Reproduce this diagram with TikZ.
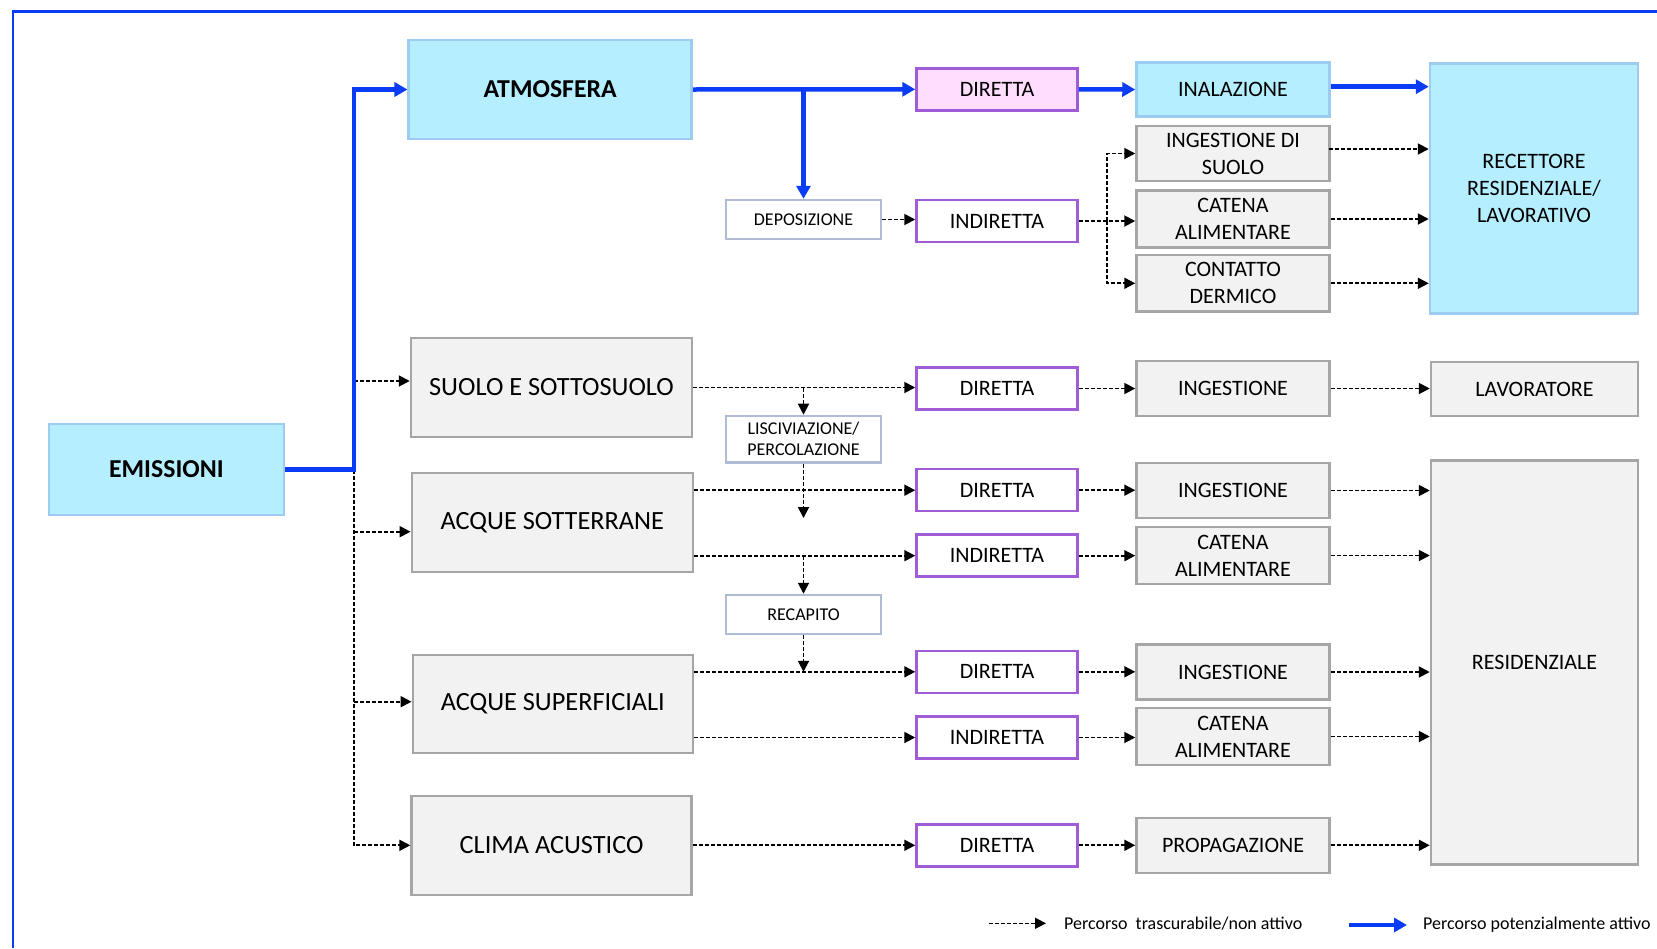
\documentclass[tikz,border=0pt]{standalone}
\usepackage{fontspec}
\setmainfont{Carlito}
\usetikzlibrary{arrows.meta,calc}
\definecolor{cyanfill}{RGB}{181,239,255}
\definecolor{cyanline}{RGB}{157,204,240}
\definecolor{grayfill}{RGB}{242,242,242}
\definecolor{grayline}{RGB}{166,166,166}
\definecolor{purpline}{RGB}{160,92,214}
\definecolor{pinkfill}{RGB}{255,221,255}
\definecolor{smallline}{RGB}{176,188,212}
\definecolor{activeblue}{RGB}{10,60,245}
\begin{document}
\begin{tikzpicture}[x=1pt,y=-1pt,
 box/.style={draw, line width=2.5pt, inner sep=0pt, align=center, font=\fontsize{22}{27}\selectfont},
 cyanbox/.style={box, fill=cyanfill, draw=cyanline},
 graybox/.style={box, fill=grayfill, draw=grayline},
 purpbox/.style={box, fill=white, draw=purpline, minimum width=161pt, minimum height=42pt},
 smallbox/.style={box, fill=white, draw=smallline, font=\fontsize{18}{21}\selectfont, minimum width=155pt},
 colsize/.style={minimum width=193pt, minimum height=55pt},
 bigfont/.style={font=\fontsize{26.3}{30}\selectfont},
 boldfont/.style={font=\bfseries\fontsize{25.8}{30}\selectfont},
 bluearr/.style={draw=activeblue, line width=4.5pt, -{Triangle[length=13pt,width=14pt]}},
 dasharr/.style={draw=black, line width=1.9pt, dash pattern=on 4pt off 2pt, -{Triangle[length=11pt,width=11pt]}},
 legtext/.style={anchor=west, inner sep=0pt, font=\fontsize{18}{21}\selectfont},
]
\useasboundingbox (0,0) rectangle (1657,948);
\fill[white] (0,0) rectangle (1657,948);
% frame
\draw[activeblue, line width=2.5pt] (13,948) -- (13,11.7) -- (1657,11.7);

% column 1-2
\node[cyanbox, boldfont, minimum width=235pt, minimum height=91pt] (emis) at (166.4,469.5) {EMISSIONI};
\node[cyanbox, boldfont, minimum width=283pt, minimum height=99pt] (atm) at (550.2,89.5) {ATMOSFERA};
\node[graybox, bigfont, minimum width=281pt, minimum height=99pt] (suolo) at (551.5,387.5) {SUOLO E SOTTOSUOLO};
\node[graybox, bigfont, minimum width=281pt, minimum height=99pt] (acqsott) at (552.3,522.5) {ACQUE SOTTERRANE};
\node[graybox, bigfont, minimum width=280pt, minimum height=98pt] (acqsup) at (552.8,704) {ACQUE SUPERFICIALI};
\node[graybox, bigfont, minimum width=280pt, minimum height=99pt] (clima) at (551.6,845.3) {CLIMA ACUSTICO};

% small boxes
\node[smallbox, minimum height=39pt] (depo) at (803.5,219.5) {DEPOSIZIONE};
\node[smallbox, minimum height=46.7pt] (lisc) at (803.5,439.3) {LISCIVIAZIONE/\\PERCOLAZIONE};
\node[smallbox, minimum height=39pt] (recap) at (803.5,614.5) {RECAPITO};

% purple boxes
\node[purpbox, fill=pinkfill] (dir1) at (997,89.3) {DIRETTA};
\node[purpbox] (ind1) at (997,221) {INDIRETTA};
\node[purpbox] (dir2) at (997,388.5) {DIRETTA};
\node[purpbox] (dir3) at (997,490.2) {DIRETTA};
\node[purpbox] (ind3) at (997,555.7) {INDIRETTA};
\node[purpbox] (dir4) at (997,671.8) {DIRETTA};
\node[purpbox] (ind4) at (997,737.5) {INDIRETTA};
\node[purpbox] (dir5) at (997,845.3) {DIRETTA};

% column 4
\node[cyanbox, colsize, minimum height=54.4pt] (inal) at (1233,89.5) {INALAZIONE};
\node[graybox, colsize] (ingsuolo) at (1233,153.5) {INGESTIONE DI\\SUOLO};
\node[graybox, colsize, minimum height=56.6pt] (catena1) at (1233,219) {CATENA\\ALIMENTARE};
\node[graybox, colsize, minimum height=56.7pt] (contatto) at (1233,283.3) {CONTATTO\\DERMICO};
\node[graybox, colsize] (ing2) at (1233,388.5) {INGESTIONE};
\node[graybox, colsize] (ing3) at (1233,490.5) {INGESTIONE};
\node[graybox, colsize, minimum height=57pt] (catena3) at (1233,555.5) {CATENA\\ALIMENTARE};
\node[graybox, colsize] (ing4) at (1233,672) {INGESTIONE};
\node[graybox, colsize, minimum height=57pt] (catena4) at (1233,736.5) {CATENA\\ALIMENTARE};
\node[graybox, colsize] (prop) at (1233,845.3) {PROPAGAZIONE};

% receptors
\node[cyanbox, minimum width=208pt, minimum height=250pt] (recett) at (1534,188.3) {RECETTORE\\RESIDENZIALE/\\LAVORATIVO};
\node[graybox, minimum width=207pt, minimum height=54pt] (lav) at (1534.5,389) {LAVORATORE};
\node[graybox, minimum width=207pt, minimum height=403.6pt] (resid) at (1534.5,662.5) {RESIDENZIALE};

% junction coordinates
\coordinate (bj) at (354,469.5);
\coordinate (bt) at (354,89.5);
\coordinate (sj) at (354,381);
\coordinate (aj) at (354,531.7);
\coordinate (wj) at (354,701.7);
\coordinate (cj) at (354,845.3);
\coordinate (lend) at (803.5,518);
\coordinate (fk) at (1107,221);
\coordinate (r1) at (1329,149);
\coordinate (r0) at (1331,86.7);

% dashed connectors
\draw[dasharr] (bj) -- (cj) -- (clima.west);
\draw[dasharr] (sj) -- (sj -| suolo.west);
\draw[dasharr] (aj) -- (aj -| acqsott.west);
\draw[dasharr] (wj) -- (wj -| acqsup.west);

\draw[dasharr] (suolo.east) -- (suolo.east -| dir2.west);
\draw[dasharr] (suolo.east -| lisc.north) -- (lisc.north);
\draw[dasharr] (lisc.south) -- (lend);
\draw[dasharr] (dir3.west -| acqsott.east) -- (dir3.west);
\draw[dasharr] (ind3.west -| acqsott.east) -- (ind3.west);
\draw[dasharr] (ind3.west -| recap.north) -- (recap.north);
\draw[dasharr] (recap.south) -- (dir4.west -| recap.south);
\draw[dasharr] (dir4.west -| acqsup.east) -- (dir4.west);
\draw[dasharr] (ind4.west -| acqsup.east) -- (ind4.west);
\draw[dasharr] (clima.east) -- (clima.east -| dir5.west);

\draw[dasharr] (depo.east) -- (depo.east -| ind1.west);
\draw[dasharr] (ind1.east) -- (ind1.east -| catena1.west);
\draw[dasharr] (fk) -- (fk |- ingsuolo.west) -- (ingsuolo.west);
\draw[dasharr] (fk) -- (fk |- contatto.west) -- (contatto.west);

\draw[dasharr] (dir2.east) -- (dir2.east -| ing2.west);
\draw[dasharr] (dir3.east) -- (dir3.east -| ing3.west);
\draw[dasharr] (ind3.east) -- (ind3.east -| catena3.west);
\draw[dasharr] (dir4.east) -- (dir4.east -| ing4.west);
\draw[dasharr] (ind4.east) -- (ind4.east -| catena4.west);
\draw[dasharr] (dir5.east) -- (dir5.east -| prop.west);

\draw[dasharr] (r1) -- (r1 -| recett.west);
\draw[dasharr] (catena1.east) -- (catena1.east -| recett.west);
\draw[dasharr] (contatto.east) -- (contatto.east -| recett.west);
\draw[dasharr] (ing2.east) -- (ing2.east -| lav.west);
\draw[dasharr] (ing3.east) -- (ing3.east -| resid.west);
\draw[dasharr] (catena3.east) -- (catena3.east -| resid.west);
\draw[dasharr] (ing4.east) -- (ing4.east -| resid.west);
\draw[dasharr] (catena4.east) -- (catena4.east -| resid.west);
\draw[dasharr] (prop.east) -- (prop.east -| resid.west);

% blue (active) connectors
\draw[bluearr] (emis.east) -- (bj) -- (bt) -- (atm.west);
\draw[bluearr] (atm.east) -- (dir1.west);
\draw[bluearr] (atm.east -| depo.north) -- (depo.north);
\draw[bluearr] (dir1.east) -- (inal.west);
\draw[bluearr] (r0) -- (r0 -| recett.west);

% legend
\coordinate (l1a) at (988.6,923.3);
\coordinate (l1b) at (1046,923.3);
\draw[dasharr, line width=1.5pt] (l1a) -- (l1b);
\node[legtext] (leg1) at (1064,923.3) {Percorso~ trascurabile/non attivo};
\coordinate (l2a) at (1349,925);
\coordinate (l2b) at (1407,925);
\draw[bluearr] (l2a) -- (l2b);
\node[legtext] (leg2) at (1423,925) {Percorso potenzialmente attivo};
\end{tikzpicture}
\end{document}
